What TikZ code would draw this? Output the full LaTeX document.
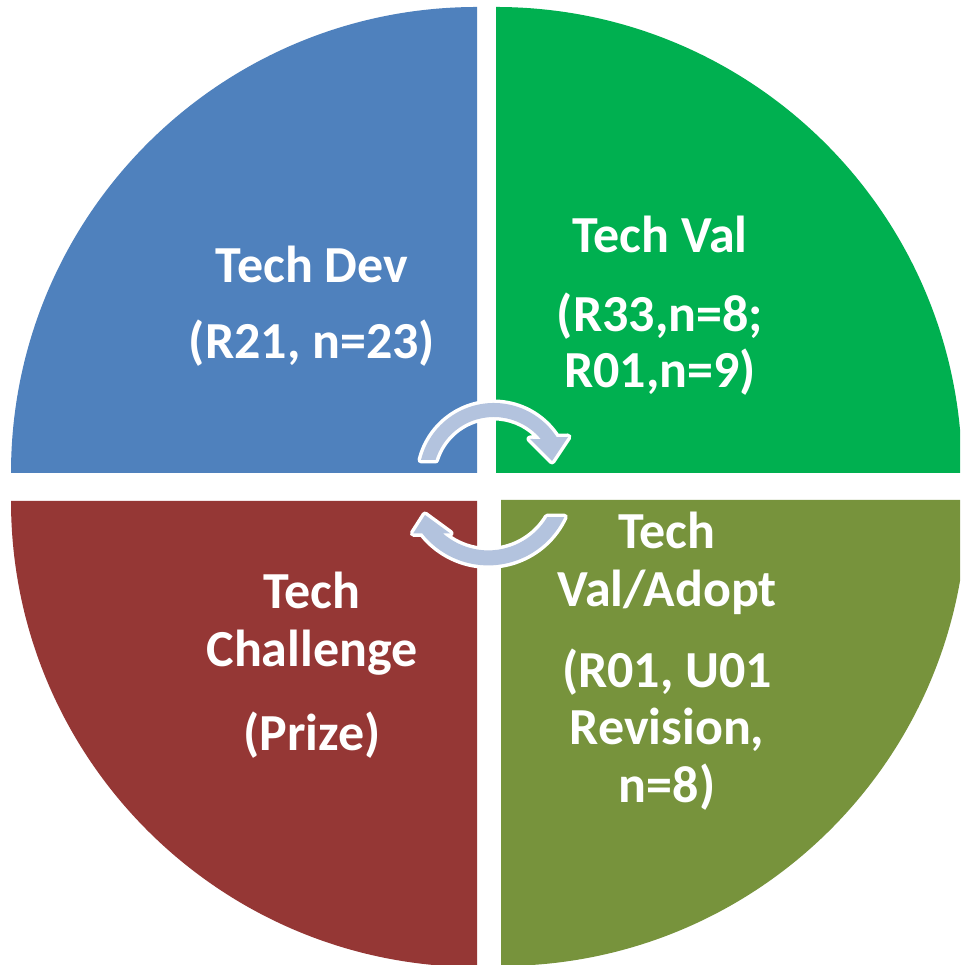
\documentclass[tikz,border=0pt]{standalone}
\usepackage{fontspec}
\setmainfont{Carlito}
\definecolor{devblue}{HTML}{4F81BD}
\definecolor{valgreen}{HTML}{00B050}
\definecolor{prizered}{HTML}{953735}
\definecolor{adoptolive}{HTML}{77933C}
\definecolor{cyclearrow}{HTML}{B3C3DE}
\begin{document}
\begin{tikzpicture}[x=1pt,y=1pt,
  label/.style={anchor=base,inner sep=0pt,text=white,
    font=\fontsize{52}{58}\selectfont\bfseries},
  cyclearrowshape/.style={fill=cyclearrow,
    preaction={draw=white,line width=7pt,line join=round}}]
  \useasboundingbox (0,0) rectangle (960,965);
  \clip (0,0) rectangle (960,965);
  \fill[white] (0,0) rectangle (960,965);

  % four quarter sectors
  \fill[devblue]    (477,492) -- (11,492) arc[start angle=180,end angle=90,radius=466] -- cycle;
  \fill[valgreen]   (496,492) -- (496,958) arc[start angle=90,end angle=0,radius=466] -- cycle;
  \fill[prizered]   (477,464) -- (11,464) arc[start angle=180,end angle=270,radius=466] -- cycle;
  \fill[adoptolive] (501,465) -- (967,465) arc[start angle=0,end angle=-90,radius=466] -- cycle;

  % upper circular arrow (clockwise, head on the right)
  \path[cyclearrowshape]
    ([shift={(493.8,487)}]166.1:75) arc[start angle=166.1,end angle=33,radius=75]
    -- (568,528) -- (552,504) -- (530,526)
    -- ([shift={(493.8,487)}]39.7:61) arc[start angle=39.7,end angle=162.8,radius=61]
    -- cycle;

  % lower circular arrow (clockwise, head on the left)
  \path[cyclearrowshape]
    ([shift={(488.2,483.6)}]-25.1:84) arc[start angle=-25.1,end angle=-141.8,radius=84]
    -- (413.3,431.7) -- (425,450) -- (450,431.7)
    -- ([shift={(488.2,483.6)}]-131.2:69) arc[start angle=-131.2,end angle=-31.1,radius=69]
    -- cycle;

  % labels
  \node[label] (dev1) at (312,682) {Tech Dev};
  \node[label] (dev2) at (312,606) {(R21, n=23)};

  \node[label] (val1) at (660,712) {Tech Val};
  \node[label] (val2) at (660,633) {(R33,n=8;};
  \node[label] (val3) at (660,577) {R01,n=9)};

  \node[label] (pr1) at (312,356) {Tech};
  \node[label] (pr2) at (312,298) {Challenge};
  \node[label] (pr3) at (312,214) {(Prize)};

  \node[label] (ad1) at (667,416) {Tech};
  \node[label] (ad2) at (667,358) {Val/Adopt};
  \node[label] (ad3) at (667,277) {(R01, U01};
  \node[label] (ad4) at (667,220) {Revision,};
  \node[label] (ad5) at (667,162) {n=8)};
\end{tikzpicture}
\end{document}
